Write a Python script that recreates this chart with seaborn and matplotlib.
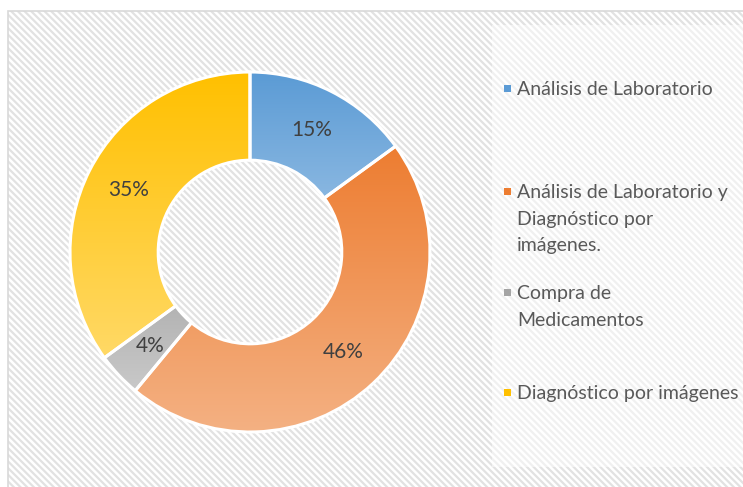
import numpy as np
import matplotlib.pyplot as plt
import seaborn as sns
from matplotlib.patches import Rectangle
from matplotlib.colors import LinearSegmentedColormap

# data
categories = ["Análisis de Laboratorio",
              "Análisis de Laboratorio y\nDiagnóstico por\nimágenes.",
              "Compra de\nMedicamentos",
              "Diagnóstico por imágenes"]
shares = [15, 46, 4, 35]

# gradient colours, top -> bottom of each slice
top_colors = ["#5B9BD5", "#ED7D31", "#A5A5A5", "#FFC000"]
bottom_colors = ["#9DC3E6", "#F4B183", "#C9C9C9", "#FFD966"]

sns.set_theme(style="white")
plt.rcParams['font.family'] = ['Lato', 'DejaVu Sans']
plt.rcParams['hatch.linewidth'] = 1.6

W, H = 743, 487
fig = plt.figure(figsize=(W / 100, H / 100), dpi=100)
fig.patch.set_facecolor("white")

def px(x, y):
    return x / W, 1 - y / H

# hatched chart area
x0, y0 = px(8, 487 + 20)
bg = Rectangle((x0, y0), 2, 1 - y0 - 11 / H, transform=fig.transFigure,
               facecolor="white", edgecolor="#E2E2E2", linewidth=0,
               hatch="\\\\\\\\\\", zorder=0)
fig.patches.append(bg)
border = Rectangle((x0, y0), 2, 1 - y0 - 11 / H, transform=fig.transFigure,
                   facecolor="none", edgecolor="#D9D9D9", linewidth=1.2, zorder=1)
fig.patches.append(border)

# legend panel
lx, ly = px(492, 467)
panel = Rectangle((lx, ly), 1, (467 - 25) / H, transform=fig.transFigure,
                  facecolor="white", alpha=0.5, linewidth=0, zorder=2)
fig.patches.append(panel)

# donut
cx, cy, r = 250, 252, 180
ax = fig.add_axes([(cx - r) / W, (H - cy - r) / H, 2 * r / W, 2 * r / H])
ax.set_zorder(5)
ax.set_facecolor("none")
ax.patch.set_alpha(0)
wedges, _, autotexts = ax.pie(shares, startangle=90, counterclock=False, radius=1,
                              autopct="%d%%", pctdistance=0.76,
                              wedgeprops=dict(width=0.49, edgecolor="white", linewidth=2.2),
                              textprops=dict(fontsize=15, color="#404040"))
for w, c1, c2 in zip(wedges, top_colors, bottom_colors):
    v = w.get_path().vertices
    xmin, xmax = v[:, 0].min(), v[:, 0].max()
    ymin, ymax = v[:, 1].min(), v[:, 1].max()
    cmap = LinearSegmentedColormap.from_list("g", [c1, c2])
    grad = np.linspace(0, 1, 256).reshape(-1, 1)
    im = ax.imshow(grad, cmap=cmap, aspect="auto", extent=(xmin, xmax, ymin, ymax),
                   origin="upper", zorder=1)
    im.set_clip_path(w)
    w.set_facecolor("none")
    w.set_zorder(2)
for t in autotexts:
    t.set_zorder(3)
ax.set_xlim(-1.0, 1.0)
ax.set_ylim(-1.0, 1.0)
ax.set_aspect("equal")
ax.axis("off")

# legend entries
entry_y = [89, 192, 293, 393]
for lab, c, yy in zip(categories, top_colors, entry_y):
    sx, sy = px(504, yy + 3)
    fig.patches.append(Rectangle((sx, sy), 7 / W, 7 / H, transform=fig.transFigure,
                                 facecolor=c, edgecolor="none", zorder=3))
    tx, ty = px(517, yy - 8)
    fig.text(tx, ty, lab, ha="left", va="top", fontsize=14, color="#595959",
             linespacing=1.68, zorder=4)

fig.savefig("out.png", dpi=100)
